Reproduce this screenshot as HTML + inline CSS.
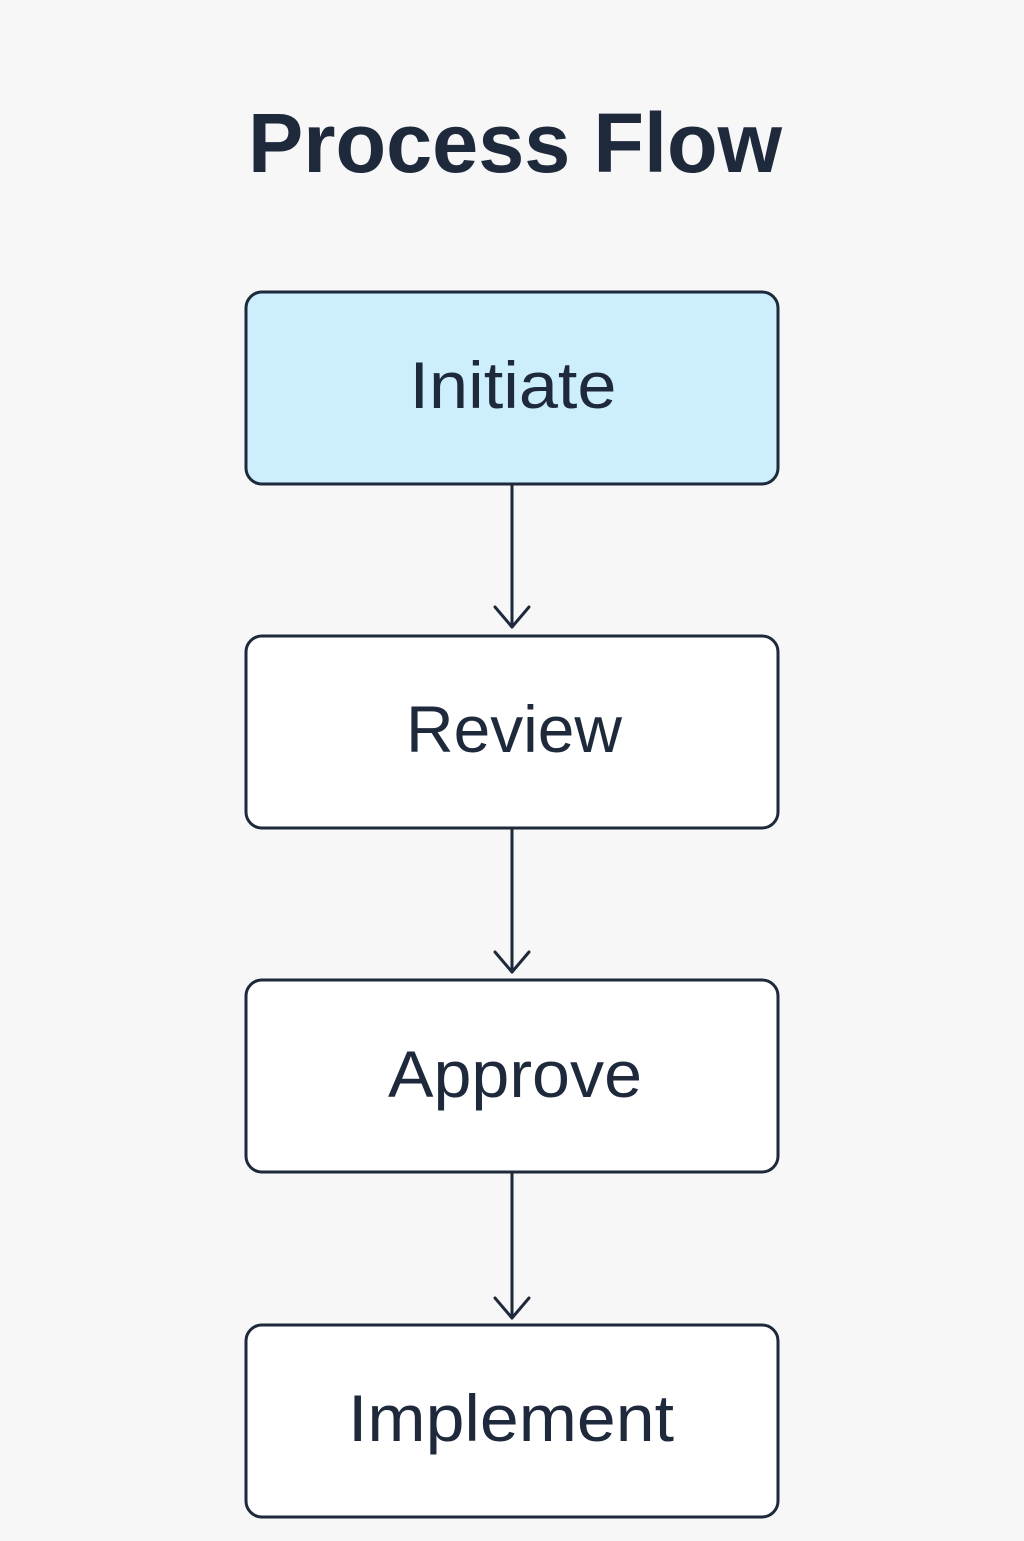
<!DOCTYPE html>
<html><head><meta charset="utf-8"><style>
html,body{margin:0;padding:0;background:#f7f7f7;}
body{width:1024px;height:1536px;overflow:hidden;}
</style></head><body>
<svg width="1024" height="1536" viewBox="0 0 1024 1536" xmlns="http://www.w3.org/2000/svg">
<rect width="1024" height="1536" fill="#f7f7f7"/>
<text x="515" y="172" text-anchor="middle" font-family="Liberation Sans, sans-serif" font-weight="bold" font-size="84" fill="#1e293b" textLength="534" lengthAdjust="spacingAndGlyphs">Process Flow</text>
<g stroke="#1e293b" stroke-width="3">
<rect x="246" y="292" width="532" height="192" rx="16" fill="#cdeefd"/>
<rect x="246" y="636" width="532" height="192" rx="16" fill="#ffffff"/>
<rect x="246" y="980" width="532" height="192" rx="16" fill="#ffffff"/>
<rect x="246" y="1325" width="532" height="192" rx="16" fill="#ffffff"/>
<g fill="none" stroke-linecap="round" stroke-linejoin="round">
<line x1="512" y1="484" x2="512" y2="627"/>
<polyline points="495,607 512,627 529,607"/>
<line x1="512" y1="828" x2="512" y2="972"/>
<polyline points="495,952 512,972 529,952"/>
<line x1="512" y1="1172" x2="512" y2="1318"/>
<polyline points="495,1298 512,1318 529,1298"/>
</g>
</g>
<g font-family="Liberation Sans, sans-serif" font-size="66" fill="#1e293b" text-anchor="middle" lengthAdjust="spacingAndGlyphs">
<text x="513" y="408" textLength="207" lengthAdjust="spacingAndGlyphs">Initiate</text>
<text x="514" y="752" textLength="216" lengthAdjust="spacingAndGlyphs">Review</text>
<text x="515" y="1097" textLength="254" lengthAdjust="spacingAndGlyphs">Approve</text>
<text x="511" y="1441" textLength="326" lengthAdjust="spacingAndGlyphs">Implement</text>
</g>
</svg>
</body></html>
